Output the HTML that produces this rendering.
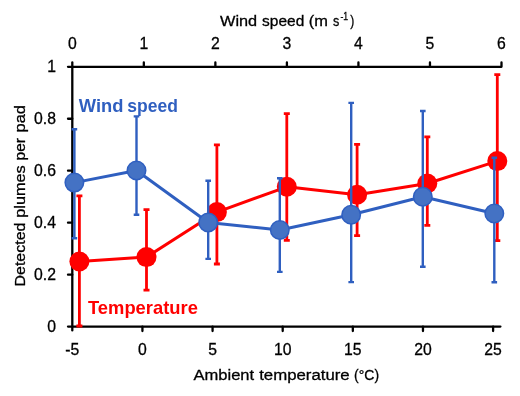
<!DOCTYPE html>
<html><head><meta charset="utf-8"><style>
html,body{margin:0;padding:0;background:#fff;width:520px;height:396px;overflow:hidden}
svg{display:block;will-change:transform;filter:blur(0.35px)}
</style></head><body>
<svg width="520" height="396" viewBox="0 0 520 396">
<rect width="520" height="396" fill="#fff"/>
<path d="M72.3,62.5V330.40000000000003" stroke="#000" stroke-width="2.3" stroke-linecap="round" fill="none"/>
<path d="M68.0,66.8H501.5V62.5" stroke="#000" stroke-width="2.3" stroke-linecap="round" stroke-linejoin="round" fill="none"/>
<path d="M68.0,326.6H500.4" stroke="#000" stroke-width="2.3" stroke-linecap="round" fill="none"/>
<path d="M143.83,66.8v-4.3 M215.37,66.8v-4.3 M286.90,66.8v-4.3 M358.43,66.8v-4.3 M429.97,66.8v-4.3 M142.43,326.6v4.4 M212.57,326.6v4.4 M282.70,326.6v4.4 M352.83,326.6v4.4 M422.97,326.6v4.4 M493.10,326.6v4.4 M72.3,274.64h-4.3 M72.3,222.68h-4.3 M72.3,170.72h-4.3 M72.3,118.76h-4.3" stroke="#000" stroke-width="2.3" stroke-linecap="round" fill="none"/>
<path d="M79.4,195.8V326.0M76.4,195.8H82.4M76.4,326.0H82.4" stroke="#FF0000" stroke-width="2.8" fill="none"/>
<path d="M146.5,209.6V290.2M143.5,209.6H149.5M143.5,290.2H149.5" stroke="#FF0000" stroke-width="2.8" fill="none"/>
<path d="M216.9,144.8V264.0M213.9,144.8H219.9M213.9,264.0H219.9" stroke="#FF0000" stroke-width="2.8" fill="none"/>
<path d="M286.8,113.7V240.4M283.8,113.7H289.8M283.8,240.4H289.8" stroke="#FF0000" stroke-width="2.8" fill="none"/>
<path d="M357.1,144.4V235.6M354.1,144.4H360.1M354.1,235.6H360.1" stroke="#FF0000" stroke-width="2.8" fill="none"/>
<path d="M427.3,136.8V225.4M424.3,136.8H430.3M424.3,225.4H430.3" stroke="#FF0000" stroke-width="2.8" fill="none"/>
<path d="M497.3,74.6V240.7M494.3,74.6H500.3M494.3,240.7H500.3" stroke="#FF0000" stroke-width="2.8" fill="none"/>
<polyline points="79.4,261.5 146.5,257.1 216.9,212.1 286.8,186.8 357.1,194.8 427.3,183.5 497.3,161.1" stroke="#FF0000" stroke-width="3" fill="none" stroke-linejoin="round"/>
<circle cx="79.4" cy="261.5" r="10" fill="#FF0000"/>
<circle cx="146.5" cy="257.1" r="10" fill="#FF0000"/>
<circle cx="216.9" cy="212.1" r="10" fill="#FF0000"/>
<circle cx="286.8" cy="186.8" r="10" fill="#FF0000"/>
<circle cx="357.1" cy="194.8" r="10" fill="#FF0000"/>
<circle cx="427.3" cy="183.5" r="10" fill="#FF0000"/>
<circle cx="497.3" cy="161.1" r="10" fill="#FF0000"/>
<path d="M74.4,129.2V238.2M71.60000000000001,129.2H77.2M71.60000000000001,238.2H77.2" stroke="#2F5FC0" stroke-width="2.4" fill="none"/>
<path d="M136.5,116.4V214.8M133.7,116.4H139.3M133.7,214.8H139.3" stroke="#2F5FC0" stroke-width="2.4" fill="none"/>
<path d="M208.2,180.8V258.9M205.39999999999998,180.8H211.0M205.39999999999998,258.9H211.0" stroke="#2F5FC0" stroke-width="2.4" fill="none"/>
<path d="M279.8,178.3V271.9M277.0,178.3H282.6M277.0,271.9H282.6" stroke="#2F5FC0" stroke-width="2.4" fill="none"/>
<path d="M351.2,102.9V282.1M348.4,102.9H354.0M348.4,282.1H354.0" stroke="#2F5FC0" stroke-width="2.4" fill="none"/>
<path d="M422.8,111.0V266.7M420.0,111.0H425.6M420.0,266.7H425.6" stroke="#2F5FC0" stroke-width="2.4" fill="none"/>
<path d="M494.3,157.8V282.2M491.5,157.8H497.1M491.5,282.2H497.1" stroke="#2F5FC0" stroke-width="2.4" fill="none"/>
<polyline points="74.4,182.6 136.5,170.5 208.2,222.5 279.8,230.0 351.2,214.8 422.8,196.7 494.3,213.5" stroke="#2F5FC0" stroke-width="3" fill="none" stroke-linejoin="round"/>
<circle cx="74.4" cy="182.6" r="9.25" fill="#4472C4" stroke="#2F5FC0" stroke-width="1.5"/>
<circle cx="136.5" cy="170.5" r="9.25" fill="#4472C4" stroke="#2F5FC0" stroke-width="1.5"/>
<circle cx="208.2" cy="222.5" r="9.25" fill="#4472C4" stroke="#2F5FC0" stroke-width="1.5"/>
<circle cx="279.8" cy="230.0" r="9.25" fill="#4472C4" stroke="#2F5FC0" stroke-width="1.5"/>
<circle cx="351.2" cy="214.8" r="9.25" fill="#4472C4" stroke="#2F5FC0" stroke-width="1.5"/>
<circle cx="422.8" cy="196.7" r="9.25" fill="#4472C4" stroke="#2F5FC0" stroke-width="1.5"/>
<circle cx="494.3" cy="213.5" r="9.25" fill="#4472C4" stroke="#2F5FC0" stroke-width="1.5"/>
<text transform="translate(56.00,331.70) scale(0.95,1)" text-anchor="end" font-size="16.6" font-family="Liberation Sans, sans-serif" stroke="#000" stroke-width="0.3" >0</text>
<text transform="translate(56.00,279.74) scale(0.95,1)" text-anchor="end" font-size="16.6" font-family="Liberation Sans, sans-serif" stroke="#000" stroke-width="0.3" >0.2</text>
<text transform="translate(56.00,227.78) scale(0.95,1)" text-anchor="end" font-size="16.6" font-family="Liberation Sans, sans-serif" stroke="#000" stroke-width="0.3" >0.4</text>
<text transform="translate(56.00,175.82) scale(0.95,1)" text-anchor="end" font-size="16.6" font-family="Liberation Sans, sans-serif" stroke="#000" stroke-width="0.3" >0.6</text>
<text transform="translate(56.00,123.86) scale(0.95,1)" text-anchor="end" font-size="16.6" font-family="Liberation Sans, sans-serif" stroke="#000" stroke-width="0.3" >0.8</text>
<text transform="translate(56.00,71.90) scale(0.95,1)" text-anchor="end" font-size="16.6" font-family="Liberation Sans, sans-serif" stroke="#000" stroke-width="0.3" >1</text>
<text transform="translate(72.30,49.20) scale(0.95,1)" text-anchor="middle" font-size="16.6" font-family="Liberation Sans, sans-serif" stroke="#000" stroke-width="0.3" >0</text>
<text transform="translate(143.83,49.20) scale(0.95,1)" text-anchor="middle" font-size="16.6" font-family="Liberation Sans, sans-serif" stroke="#000" stroke-width="0.3" >1</text>
<text transform="translate(215.37,49.20) scale(0.95,1)" text-anchor="middle" font-size="16.6" font-family="Liberation Sans, sans-serif" stroke="#000" stroke-width="0.3" >2</text>
<text transform="translate(286.90,49.20) scale(0.95,1)" text-anchor="middle" font-size="16.6" font-family="Liberation Sans, sans-serif" stroke="#000" stroke-width="0.3" >3</text>
<text transform="translate(358.43,49.20) scale(0.95,1)" text-anchor="middle" font-size="16.6" font-family="Liberation Sans, sans-serif" stroke="#000" stroke-width="0.3" >4</text>
<text transform="translate(429.97,49.20) scale(0.95,1)" text-anchor="middle" font-size="16.6" font-family="Liberation Sans, sans-serif" stroke="#000" stroke-width="0.3" >5</text>
<text transform="translate(501.50,49.20) scale(0.95,1)" text-anchor="middle" font-size="16.6" font-family="Liberation Sans, sans-serif" stroke="#000" stroke-width="0.3" >6</text>
<text transform="translate(72.30,354.60) scale(0.95,1)" text-anchor="middle" font-size="16.6" font-family="Liberation Sans, sans-serif" stroke="#000" stroke-width="0.3" >-5</text>
<text transform="translate(142.43,354.60) scale(0.95,1)" text-anchor="middle" font-size="16.6" font-family="Liberation Sans, sans-serif" stroke="#000" stroke-width="0.3" >0</text>
<text transform="translate(212.57,354.60) scale(0.95,1)" text-anchor="middle" font-size="16.6" font-family="Liberation Sans, sans-serif" stroke="#000" stroke-width="0.3" >5</text>
<text transform="translate(282.70,354.60) scale(0.95,1)" text-anchor="middle" font-size="16.6" font-family="Liberation Sans, sans-serif" stroke="#000" stroke-width="0.3" >10</text>
<text transform="translate(352.83,354.60) scale(0.95,1)" text-anchor="middle" font-size="16.6" font-family="Liberation Sans, sans-serif" stroke="#000" stroke-width="0.3" >15</text>
<text transform="translate(422.97,354.60) scale(0.95,1)" text-anchor="middle" font-size="16.6" font-family="Liberation Sans, sans-serif" stroke="#000" stroke-width="0.3" >20</text>
<text transform="translate(493.10,354.60) scale(0.95,1)" text-anchor="middle" font-size="16.6" font-family="Liberation Sans, sans-serif" stroke="#000" stroke-width="0.3" >25</text>
<text x="220.0" y="25.6" font-size="15.2" fill="#000" font-family="Liberation Sans, sans-serif" stroke="#000" stroke-width="0.3" textLength="37.15" lengthAdjust="spacingAndGlyphs">Wind</text>
<text x="262.1" y="25.6" font-size="15.2" fill="#000" font-family="Liberation Sans, sans-serif" stroke="#000" stroke-width="0.3" textLength="42.2" lengthAdjust="spacingAndGlyphs">speed</text>
<text x="308.72" y="25.6" font-size="15.2" fill="#000" font-family="Liberation Sans, sans-serif" stroke="#000" stroke-width="0.3" textLength="19.16" lengthAdjust="spacingAndGlyphs">(m</text>
<text x="333.0" y="25.6" font-size="15.2" fill="#000" font-family="Liberation Sans, sans-serif" stroke="#000" stroke-width="0.3" textLength="6.29" lengthAdjust="spacingAndGlyphs">s</text>
<text x="340.4" y="20.400000000000002" font-size="11" fill="#000" font-family="Liberation Sans, sans-serif" stroke="#000" stroke-width="0.3" textLength="7.73" lengthAdjust="spacingAndGlyphs">-1</text>
<text x="350.2" y="25.6" font-size="15.2" fill="#000" font-family="Liberation Sans, sans-serif" stroke="#000" stroke-width="0.3" textLength="4.05" lengthAdjust="spacingAndGlyphs">)</text>
<text x="193.5" y="379.8" font-size="15.2" fill="#000" font-family="Liberation Sans, sans-serif" stroke="#000" stroke-width="0.3" textLength="60.59" lengthAdjust="spacingAndGlyphs">Ambient</text>
<text x="259.2" y="379.8" font-size="15.2" fill="#000" font-family="Liberation Sans, sans-serif" stroke="#000" stroke-width="0.3" textLength="90.5" lengthAdjust="spacingAndGlyphs">temperature</text>
<text x="354.06" y="379.8" font-size="15.2" fill="#000" font-family="Liberation Sans, sans-serif" stroke="#000" stroke-width="0.3" textLength="25.0" lengthAdjust="spacingAndGlyphs">(°C)</text>
<g transform="translate(25.1,285.5) rotate(-90)"><text x="-1.06" y="0" font-size="15.2" fill="#000" font-family="Liberation Sans, sans-serif" stroke="#000" stroke-width="0.3" textLength="64.0" lengthAdjust="spacingAndGlyphs">Detected</text><text x="67.72" y="0" font-size="15.2" fill="#000" font-family="Liberation Sans, sans-serif" stroke="#000" stroke-width="0.3" textLength="52.5" lengthAdjust="spacingAndGlyphs">plumes</text><text x="125.07" y="0" font-size="15.2" fill="#000" font-family="Liberation Sans, sans-serif" stroke="#000" stroke-width="0.3" textLength="22.4" lengthAdjust="spacingAndGlyphs">per</text><text x="153.06" y="0" font-size="15.2" fill="#000" font-family="Liberation Sans, sans-serif" stroke="#000" stroke-width="0.3" textLength="27.4" lengthAdjust="spacingAndGlyphs">pad</text></g>
<text x="78.8" y="111.9" font-size="18.6" font-weight="bold" fill="#2F5FC0" font-family="Liberation Sans, sans-serif"  textLength="44.66" lengthAdjust="spacingAndGlyphs">Wind</text>
<text x="127.37" y="111.9" font-size="18.6" font-weight="bold" fill="#2F5FC0" font-family="Liberation Sans, sans-serif"  textLength="50.6" lengthAdjust="spacingAndGlyphs">speed</text>
<text x="88.0" y="314" font-size="18.6" font-weight="bold" fill="#FF0000" font-family="Liberation Sans, sans-serif"  textLength="109.86" lengthAdjust="spacingAndGlyphs">Temperature</text>
</svg>
</body></html>
